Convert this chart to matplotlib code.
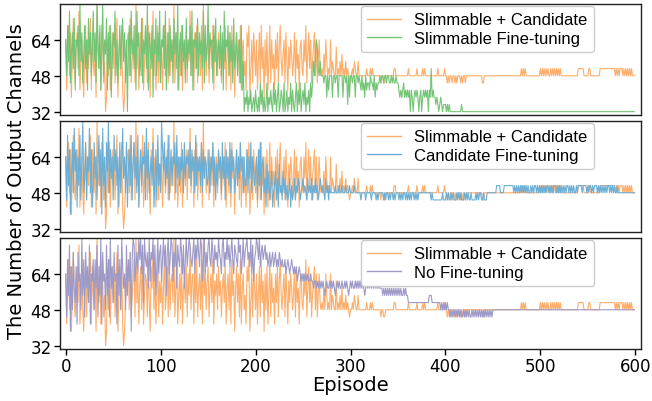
import numpy as np
import matplotlib
matplotlib.use("Agg")
import matplotlib.pyplot as plt

# Channel levels: code k (hex digit) -> 32 + 3.2*k output channels (32 ... 80)
LEVEL_BASE = 32.0
LEVEL_STEP = 3.2

# Per-episode level codes, episodes 0..599
slimmable_candidate = (
    "a37c5b28d6 49b6e37a52 8c4a69d3b7 5a2f86b3c9 4702a5c38b "
    "6a49d27b5c 30268ab5d4 79c4f6a38b 5d37a94c62 b8e5a37c49 "
    "6a38c57b4d 59a6f48b37 a5c3896b4a 7e59a3b6c4 8a5c3f7a59 "
    "b48a6c397a 5b7948a6c3 8a5b3c7928 b6a4c38a57 3b9c26a4b8 "
    "5a37b4c692 a5b37c4a68 3a6b49c758 a4b7396a85 7b4a6839a6 "
    "5a7c48b6a4 79b5a47a65 6585a7565a 5765595657 5856575654 "
    "5565765575 5555555655 5656555555 5545544555 5555556655 "
    "5555555555 5655555555 6555556565 5555555555 5565555556 "
    "5545455455 4545554545 5455555555 5555555554 4555555555 "
    "5555555555 5555555555 5555555555 6565655555 5555555555 "
    "6565656565 5656565656 5655555555 5555555555 6666665555 "
    "5665555555 5556666666 6666666665 6565666565 6565656555"
)
slimmable_finetune = (
    "a5c7e48b6d 3a9c5f7b48 c6a3d8b59e 7b4fa6c39f 5a8d3b6c27 "
    "b9e5a48c6a d7b4a09c5e 8a6c3e9b57 d4a8c6f3b9 6c2a8d5b7e "
    "4a9c6e38b5 c7a4d8b6f3 9b5c7a4d6a 8c5e3a9b6d 5b8a6e4c79 "
    "f6b9a4c7d5 8a6c5b3e7a 9c5b7a4d68 b58a4c3702 1302130120 "
    "3102041302 0140213104 1302401320 4013021403 1024031402 "
    "3140213042 4758a96575 5545525355 5255455255 5525545152 "
    "5545525545 4353425344 3544352434 4545545545 5445454454 "
    "4323234232 3230320232 3202302323 2303262322 1210121011 "
    "1010100000 0000000100 0000000000 0000000000 0000000000 "
    "0000000000 0000000000 0000000000 0000000000 0000000000 "
    "0000000000 0000000000 0000000000 0000000000 0000000000 "
    "0000000000 0000000000 0000000000 0000000000 0000000000"
)
candidate_finetune = (
    "a4d6b27c5e 8b3a6d49f5 7c4a8e5b36 c7a49d6b2e 6a3c8f5b7a "
    "4d8b6a3c59 e7a5c38b6d 49c7a5d38b 6a9c4e7b58 a6c37b4d69 "
    "5fb8c6a7d4 8b6a9c5d7a 6a8b5c7a9b 7c6b8a5d6a 8a6c5b7a96 "
    "7b5a8c6a49 6b8a5c7a4b 7a6c5b8a57 b6a7c8a5a6 6b5a7c5a86 "
    "8a4b6c49a5 7395846835 6847395648 5746457364 5746576456 "
    "7565475657 4657564576 5654756465 5555655565 5655565556 "
    "5555655555 5455554555 5545555454 5555545455 4545545455 "
    "5454545545 4545455454 5455555555 5555545444 4444444544 "
    "4545445454 4454545444 5454544544 4454545544 5444555555 "
    "5555666655 5566666666 6656565656 5656565655 6565665656 "
    "5656565665 6565666565 6565656566 5656565565 6666566665 "
    "6566565666 5656565656 5665656565 5655555555 5555555555"
)
no_finetune = (
    "a4c7e2b5d8 6b3d9a5f7c 4d8b6e3a9c 5c8e4b7f3d 9a5e7c4f8b "
    "6d9a3e7c5f b8a5e7c9d2 cfe9bdafcf ae6fcbd8f9 dcf9e7bfad "
    "e9cfbe7dfa cfe9dbf8ec bfdae8cfbd fecbdfaecf dbfe9cfadb "
    "efcbfdaecd bfdcaefbdc fcebdfcaed cbfdeacfbd efcdbfae9c "
    "dfecfbdecd ecdbcdbcdb cdbcbdcbcb bcabcbabcb abab9aba9a "
    "9a9a9a99a9 9899898989 8987898898 9898789898 8988989878 "
    "9898898989 8989878989 8989898988 9888787878 7878787878 "
    "7878778787 7666666666 6666666666 6667776666 6666656565 "
    "6565545454 5454545445 4545454454 5454545454 5454545454 "
    "5555555555 5555555555 5555555555 5555555555 5555555555 "
    "5555555555 5555555555 5555555555 5555555555 5555555555 "
    "5555555555 5555555555 5555555555 5555555555 5555555555"
)

labels_base = "Slimmable + Candidate"
labels_other = ["Slimmable Fine-tuning", "Candidate Fine-tuning", "No Fine-tuning"]
yticks = [32, 48, 64]
xticks = [0, 100, 200, 300, 400, 500, 600]

c_orange = "#fdae6b"
colors_other = ["#74c476", "#6baed6", "#9e9ac8"]


def decode(s):
    return np.array([LEVEL_BASE + LEVEL_STEP * int(ch, 16) for ch in s if ch != " "])


base = decode(slimmable_candidate)
others = [decode(slimmable_finetune), decode(candidate_finetune), decode(no_finetune)]

W, H = 652, 402
fig = plt.figure(figsize=(W / 100, H / 100), dpi=100)
left = 60 / W
width = (641 - 60) / W
panels = [(5, 116), (122, 233), (239, 350)]
axes = []
for (top, bot) in panels:
    ax = fig.add_axes([left, 1 - bot / H, width, (bot - top) / H])
    axes.append(ax)

for i, ax in enumerate(axes):
    ax.plot(np.arange(len(base)), base, color=c_orange, lw=0.8, label=labels_base)
    o = others[i]
    ax.plot(np.arange(len(o)), o, color=colors_other[i], lw=0.8, label=labels_other[i])
    ax.set_xlim(-6, 606)
    ax.set_ylim(30.5, 80)
    ax.set_yticks(yticks)
    ax.tick_params(axis="y", labelsize=12, length=4, width=1, pad=2)
    for sp in ax.spines.values():
        sp.set_color("#222222")
        sp.set_linewidth(1.0)
    leg = ax.legend(loc="upper right", bbox_to_anchor=(0.922, 1.0),
                    prop={"family": "Liberation Sans", "size": 12},
                    borderaxespad=0.1, handlelength=2.0, labelspacing=0.2,
                    borderpad=0.4, framealpha=1.0,
                    edgecolor="#cccccc", fancybox=True)
    for line in leg.get_lines():
        line.set_linewidth(1.0)
    if i < 2:
        ax.set_xticks([])
    else:
        ax.set_xticks(xticks)
        ax.tick_params(axis="x", labelsize=12, length=4, width=1, pad=2)
        ax.set_xlabel("Episode", fontsize=14, labelpad=0)

fig.text(17 / W, 1 - 181 / H, "The Number of Output Channels", rotation=90,
         ha="center", va="center", fontsize=14)

fig.savefig("out.png", dpi=100)
